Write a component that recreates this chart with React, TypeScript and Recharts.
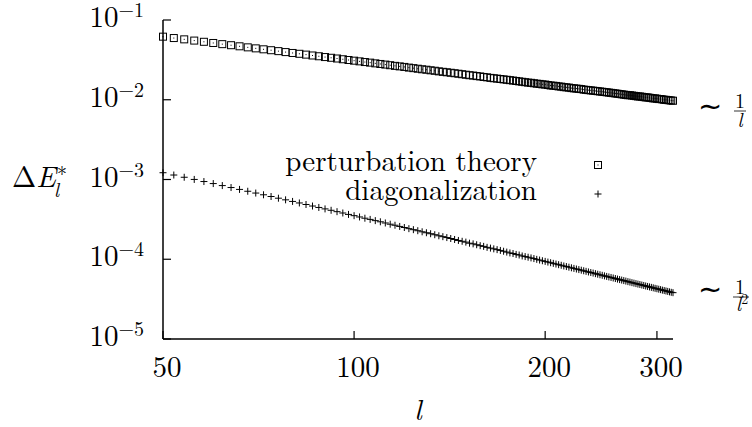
import * as React from 'react';
import { ScatterChart, Scatter, XAxis, YAxis } from 'recharts';

// l values (every second site)
const lValues = [
  50, 52, 54, 56, 58, 60, 62, 64, 66, 68, 70, 72, 74, 76, 78, 80, 82, 84, 86, 88,
  90, 92, 94, 96, 98, 100, 102, 104, 106, 108, 110, 112, 114, 116, 118, 120, 122, 124, 126, 128,
  130, 132, 134, 136, 138, 140, 142, 144, 146, 148, 150, 152, 154, 156, 158, 160, 162, 164, 166, 168,
  170, 172, 174, 176, 178, 180, 182, 184, 186, 188, 190, 192, 194, 196, 198, 200, 202, 204, 206, 208,
  210, 212, 214, 216, 218, 220, 222, 224, 226, 228, 230, 232, 234, 236, 238, 240, 242, 244, 246, 248,
  250, 252, 254, 256, 258, 260, 262, 264, 266, 268, 270, 272, 274, 276, 278, 280, 282, 284, 286, 288,
  290, 292, 294, 296, 298, 300, 302, 304, 306, 308, 310, 312, 314, 316, 318,
];

const perturbation = [
  0.0618, 0.0594, 0.0572, 0.0552, 0.0533, 0.0515, 0.0498, 0.0483, 0.0468, 0.0454,
  0.0441, 0.0429, 0.0418, 0.0407, 0.0396, 0.0386, 0.0377, 0.0368, 0.0359, 0.0351,
  0.0343, 0.0336, 0.0329, 0.0322, 0.0315, 0.0309, 0.0303, 0.0297, 0.0292, 0.0286,
  0.0281, 0.0276, 0.0271, 0.0266, 0.0262, 0.0258, 0.0253, 0.0249, 0.0245, 0.0241,
  0.0238, 0.0234, 0.0231, 0.0227, 0.0224, 0.0221, 0.0218, 0.0215, 0.0212, 0.0209,
  0.0206, 0.0203, 0.0201, 0.0198, 0.0196, 0.0193, 0.0191, 0.0188, 0.0186, 0.0184,
  0.0182, 0.018, 0.0178, 0.0176, 0.0174, 0.0172, 0.017, 0.0168, 0.0166, 0.0164,
  0.0163, 0.0161, 0.0159, 0.0158, 0.0156, 0.0155, 0.0153, 0.0151, 0.015, 0.0149,
  0.0147, 0.0146, 0.0144, 0.0143, 0.0142, 0.014, 0.0139, 0.0138, 0.0137, 0.0136,
  0.0134, 0.0133, 0.0132, 0.0131, 0.013, 0.0129, 0.0128, 0.0127, 0.0126, 0.0125,
  0.0124, 0.0123, 0.0122, 0.0121, 0.012, 0.0119, 0.0118, 0.0117, 0.0116, 0.0115,
  0.0114, 0.0114, 0.0113, 0.0112, 0.0111, 0.011, 0.011, 0.0109, 0.0108, 0.0107,
  0.0107, 0.0106, 0.0105, 0.0104, 0.0104, 0.0103, 0.0102, 0.0102, 0.0101, 0.01,
  0.00997, 0.0099, 0.00984, 0.00978, 0.00972,
];

const diagonalization = [
  1.216e-3, 1.138e-3, 1.067e-3, 1.002e-3, 9.43e-4, 8.89e-4, 8.39e-4, 7.93e-4, 7.51e-4, 7.12e-4,
  6.76e-4, 6.43e-4, 6.12e-4, 5.83e-4, 5.56e-4, 5.31e-4, 5.08e-4, 4.86e-4, 4.65e-4, 4.46e-4,
  4.28e-4, 4.11e-4, 3.95e-4, 3.8e-4, 3.65e-4, 3.52e-4, 3.39e-4, 3.27e-4, 3.16e-4, 3.05e-4,
  2.95e-4, 2.85e-4, 2.75e-4, 2.67e-4, 2.58e-4, 2.5e-4, 2.42e-4, 2.35e-4, 2.28e-4, 2.21e-4,
  2.15e-4, 2.09e-4, 2.03e-4, 1.97e-4, 1.92e-4, 1.87e-4, 1.82e-4, 1.77e-4, 1.72e-4, 1.68e-4,
  1.64e-4, 1.59e-4, 1.56e-4, 1.52e-4, 1.48e-4, 1.45e-4, 1.41e-4, 1.38e-4, 1.35e-4, 1.32e-4,
  1.29e-4, 1.26e-4, 1.23e-4, 1.2e-4, 1.18e-4, 1.15e-4, 1.13e-4, 1.1e-4, 1.08e-4, 1.06e-4,
  1.04e-4, 1.02e-4, 9.97e-5, 9.77e-5, 9.58e-5, 9.4e-5, 9.22e-5, 9.05e-5, 8.88e-5, 8.71e-5,
  8.55e-5, 8.4e-5, 8.24e-5, 8.1e-5, 7.95e-5, 7.81e-5, 7.68e-5, 7.54e-5, 7.42e-5, 7.29e-5,
  7.17e-5, 7.05e-5, 6.93e-5, 6.82e-5, 6.71e-5, 6.6e-5, 6.49e-5, 6.39e-5, 6.29e-5, 6.19e-5,
  6.09e-5, 6.0e-5, 5.91e-5, 5.82e-5, 5.73e-5, 5.64e-5, 5.56e-5, 5.48e-5, 5.4e-5, 5.32e-5,
  5.24e-5, 5.17e-5, 5.09e-5, 5.02e-5, 4.95e-5, 4.88e-5, 4.82e-5, 4.75e-5, 4.69e-5, 4.62e-5,
  4.56e-5, 4.5e-5, 4.44e-5, 4.38e-5, 4.32e-5, 4.27e-5, 4.21e-5, 4.16e-5, 4.1e-5, 4.05e-5,
  4.0e-5, 3.95e-5, 3.9e-5, 3.85e-5, 3.81e-5,
];

const xTicks = [50, 100, 200, 300];
const yTicks = [1e-5, 1e-4, 1e-3, 1e-2, 1e-1];
const legendLabels = ['perturbation theory', 'diagonalization'];

const pertData = lValues.map((l, i) => ({ l, e: perturbation[i] }));
const diagData = lValues.map((l, i) => ({ l, e: diagonalization[i] }));

// LaTeX-like look
const TXT = { fontFamily: "'Latin Modern Roman'" };
const INK = '#000';
const TICK = 8;

function SquareMark({ cx, cy }: any) {
  if (cx == null || cy == null) return null;
  return (
    <g>
      <rect x={cx - 3.5} y={cy - 3.5} width={7} height={7} fill="none" stroke={INK} strokeWidth={1} />
      <rect x={cx - 0.5} y={cy - 0.5} width={1} height={1} fill={INK} />
    </g>
  );
}

function PlusMark({ cx, cy }: any) {
  if (cx == null || cy == null) return null;
  return (
    <g stroke={INK} strokeWidth={1}>
      <line x1={cx - 3.5} y1={cy} x2={cx + 3.5} y2={cy} />
      <line x1={cx} y1={cy - 3.5} x2={cx} y2={cy + 3.5} />
    </g>
  );
}

function BottomTick({ x, y, payload }: any) {
  return (
    <g>
      <line x1={x} y1={y} x2={x} y2={y - TICK} stroke={INK} strokeWidth={1.2} />
      <text x={x + 4} y={y + 38} textAnchor="middle" style={TXT} fontSize={29} fill={INK}>
        {payload.value}
      </text>
    </g>
  );
}

function TopTick({ x, y }: any) {
  return <line x1={x} y1={y} x2={x} y2={y + TICK} stroke={INK} strokeWidth={1.2} />;
}

function LeftTick({ x, y, payload }: any) {
  const exp = Math.round(Math.log10(payload.value));
  return (
    <g>
      <line x1={x} y1={y} x2={x + TICK} y2={y} stroke={INK} strokeWidth={1.2} />
      <text x={x - 19} y={y + 7} textAnchor="end" style={TXT} fontSize={29} fill={INK}>
        10
        <tspan dy={-10} fontSize={20}>{'\u2212' + Math.abs(exp)}</tspan>
      </text>
    </g>
  );
}

function RightTick({ x, y }: any) {
  return <line x1={x} y1={y} x2={x - TICK} y2={y} stroke={INK} strokeWidth={1.2} />;
}

export default function App() {
  return (
    <div style={{ position: 'absolute', left: 0, top: 0, width: 752, height: 427, background: '#fff' }}>
      <ScatterChart width={752} height={427} margin={{ top: 20, right: 79, bottom: 58, left: 103 }}>
        <XAxis
          xAxisId="b"
          dataKey="l"
          type="number"
          scale="log"
          domain={[50, 318]}
          ticks={xTicks}
          interval={0}
          height={30}
          tickSize={0}
          tickMargin={0}
          tickLine={false}
          axisLine={{ stroke: INK, strokeWidth: 1.5 }}
          tick={<BottomTick />}
        />
        <XAxis
          xAxisId="t"
          orientation="top"
          dataKey="l"
          type="number"
          scale="log"
          domain={[50, 318]}
          ticks={xTicks}
          interval={0}
          height={0}
          tickSize={0}
          tickMargin={0}
          tickLine={false}
          axisLine={{ stroke: INK, strokeWidth: 1.5 }}
          tick={<TopTick />}
        />
        <YAxis
          yAxisId="l"
          dataKey="e"
          type="number"
          scale="log"
          domain={[1e-5, 1e-1]}
          ticks={yTicks}
          interval={0}
          width={60}
          tickSize={0}
          tickMargin={0}
          tickLine={false}
          axisLine={{ stroke: INK, strokeWidth: 1.5 }}
          tick={<LeftTick />}
        />
        <YAxis
          yAxisId="r"
          orientation="right"
          dataKey="e"
          type="number"
          scale="log"
          domain={[1e-5, 1e-1]}
          ticks={yTicks}
          interval={0}
          width={0}
          tickSize={0}
          tickMargin={0}
          tickLine={false}
          axisLine={{ stroke: INK, strokeWidth: 1.5 }}
          tick={<RightTick />}
        />
        <Scatter
          name={legendLabels[0]}
          data={pertData}
          xAxisId="b"
          yAxisId="l"
          shape={<SquareMark />}
          isAnimationActive={false}
        />
        <Scatter
          name={legendLabels[1]}
          data={diagData}
          xAxisId="b"
          yAxisId="l"
          shape={<PlusMark />}
          isAnimationActive={false}
        />
      </ScatterChart>

      <svg
        width={752}
        height={427}
        style={{ position: 'absolute', left: 0, top: 0, pointerEvents: 'none' }}
        fill={INK}
      >
        {/* legend */}
        <text x={537} y={171} textAnchor="end" fontSize={29} style={TXT}>{legendLabels[0]}</text>
        <SquareMark cx={598} cy={165} />
        <text x={537} y={200} textAnchor="end" fontSize={29} style={TXT}>{legendLabels[1]}</text>
        <PlusMark cx={598} cy={194} />

        {/* axis titles */}
        <text x={12} y={187} fontSize={29} style={TXT}>
          {'\u0394'}
          <tspan fontStyle="italic">E</tspan>
        </text>
        <text x={54} y={197} fontSize={20} fontStyle="italic" style={TXT}>l</text>
        <text x={57} y={181} fontSize={20} style={TXT}>*</text>
        <text x={418} y={420} fontSize={29} fontStyle="italic" textAnchor="middle" style={TXT}>l</text>

        {/* scaling annotations */}
        <text x={710} y={116} fontSize={29} textAnchor="middle" style={TXT}>{'\u223C'}</text>
        <text x={740} y={108} fontSize={20} textAnchor="middle" style={TXT}>1</text>
        <line x1={734} y1={111} x2={746} y2={111} stroke={INK} strokeWidth={0.8} />
        <text x={740} y={127} fontSize={20} fontStyle="italic" textAnchor="middle" style={TXT}>l</text>

        <text x={710} y={299} fontSize={29} textAnchor="middle" style={TXT}>{'\u223C'}</text>
        <text x={740} y={294} fontSize={20} textAnchor="middle" style={TXT}>1</text>
        <line x1={733} y1={297} x2={749} y2={297} stroke={INK} strokeWidth={0.8} />
        <text x={736} y={311} fontSize={20} fontStyle="italic" style={TXT}>
          l<tspan dy={-7} fontSize={14} fontStyle="normal">2</tspan>
        </text>
      </svg>
    </div>
  );
}
